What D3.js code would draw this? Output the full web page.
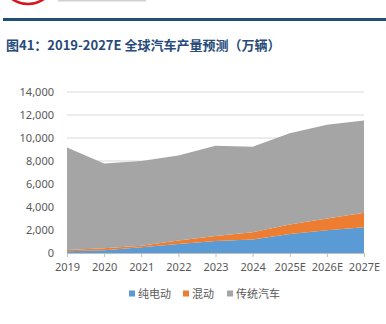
<!DOCTYPE html>
<html>
<head>
<meta charset="utf-8">
<script src="https://cdn.jsdelivr.net/npm/d3@7"></script>
<style>
  body { margin: 0; background: #fff; }
  svg { display: block; font-family: "Noto Sans", "Noto Sans CJK SC", sans-serif; }
</style>
</head>
<body>
<div id="chart"></div>
<script>
const years = ['2019', '2020', '2021', '2022', '2023', '2024', '2025E', '2026E', '2027E'];
const bev = [150, 230, 500, 780, 1050, 1170, 1660, 1980, 2240];
const hybrid = [110, 180, 140, 300, 430, 630, 810, 1010, 1250];
const traditional = [8910, 7370, 7360, 7400, 7840, 7430, 7950, 8160, 8030];
const seriesNames = ['纯电动', '混动', '传统汽车'];
const seriesColours = ['#5B9BD5', '#ED7D31', '#A5A5A5'];
const yTicks = [0, 2000, 4000, 6000, 8000, 10000, 12000, 14000];

const width = 386;
const height = 324;
const svg = d3.select('#chart')
  .append('svg')
  .attr('width', width)
  .attr('height', height);

// header: logo fragment, rule and title
svg.append('path')
  .attr('d', 'M12,-1 A28,28 0 0 0 44,-1')
  .attr('fill', 'none')
  .attr('stroke', '#D7161E')
  .attr('stroke-width', 2.5);
svg.append('rect')
  .attr('x', 58).attr('y', 0).attr('width', 88).attr('height', 1.5)
  .attr('fill', '#D0D0D0');
svg.append('rect')
  .attr('x', 3).attr('y', 18).attr('width', 383).attr('height', 3)
  .attr('fill', '#1F4E79');
svg.append('text')
  .attr('x', 6).attr('y', 50)
  .attr('font-family', '"Noto Sans CJK SC", sans-serif')
  .attr('font-size', 13)
  .attr('font-weight', 'bold')
  .attr('fill', '#264A7A')
  .text('图41：2019-2027E 全球汽车产量预测（万辆）');

const x = d3.scalePoint().domain(years).range([67, 364]);
const y = d3.scaleLinear().domain([0, 14000]).range([253, 92]);

// gridlines
svg.append('g')
  .selectAll('line')
  .data(yTicks.slice(1))
  .join('line')
  .attr('x1', 67).attr('x2', 364)
  .attr('y1', d => y(d)).attr('y2', d => y(d))
  .attr('stroke', '#D9D9D9')
  .attr('stroke-width', 1);

const rows = years.map((yr, i) => ({ year: yr, bev: bev[i], hybrid: hybrid[i], traditional: traditional[i] }));
const stacked = d3.stack().keys(['bev', 'hybrid', 'traditional'])(rows);

const area = d3.area()
  .x(d => x(d.data.year))
  .y0(d => y(d[0]))
  .y1(d => y(d[1]));

svg.append('g')
  .selectAll('path')
  .data(stacked)
  .join('path')
  .attr('d', area)
  .attr('fill', (d, i) => seriesColours[i]);

// y axis labels
svg.append('g')
  .selectAll('text')
  .data(yTicks)
  .join('text')
  .attr('x', 54)
  .attr('y', d => y(d) + 4)
  .attr('text-anchor', 'end')
  .attr('font-size', 11)
  .attr('fill', '#595959')
  .text(d => d3.format(',')(d));

// x axis
const xAxis = svg.append('g')
  .attr('transform', `translate(0, ${y(0)})`)
  .call(d3.axisBottom(x).tickSize(4).tickPadding(6));
xAxis.select('.domain').attr('stroke', '#BFBFBF');
xAxis.selectAll('.tick line').attr('stroke', '#BFBFBF');
xAxis.selectAll('.tick text')
  .attr('font-size', 11)
  .attr('fill', '#595959')
  .attr('font-family', '"Noto Sans", sans-serif');

// legend
const legendX = [129, 183, 227];
const legend = svg.append('g')
  .selectAll('g')
  .data(seriesNames)
  .join('g')
  .attr('transform', (d, i) => `translate(${legendX[i]}, 294)`);
legend.append('rect')
  .attr('x', 0).attr('y', -3.5).attr('width', 6).attr('height', 6)
  .attr('fill', (d, i) => seriesColours[i]);
legend.append('text')
  .attr('x', 9).attr('y', 4)
  .attr('font-size', 11)
  .attr('font-family', '"Noto Sans CJK SC", sans-serif')
  .attr('fill', '#595959')
  .text(d => d);
</script>
</body>
</html>
